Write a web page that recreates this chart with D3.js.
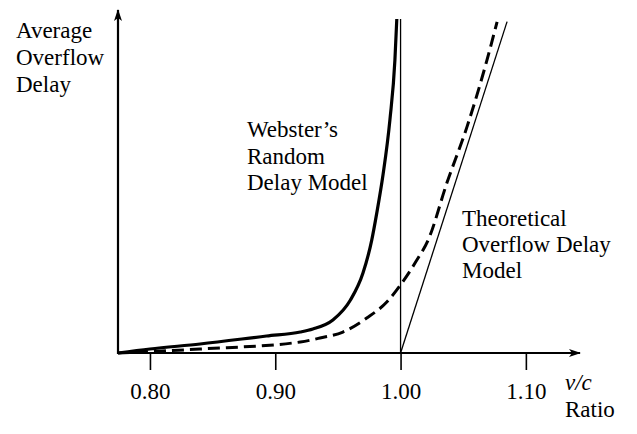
<!DOCTYPE html>
<html><head><meta charset="utf-8">
<script src="https://cdn.jsdelivr.net/npm/d3@7"></script>
<style>
html,body{margin:0;padding:0;background:#fff;}
svg{display:block;}
text{font-family:"Liberation Serif","Times New Roman",serif;fill:#000;}
</style></head>
<body>
<svg id="c" width="637" height="434"></svg>
<script>
// v/c ratio ticks
const tickValues = [0.80, 0.90, 1.00, 1.10];
// Webster's random delay model (thick solid)
const websterX = [0.7745, 0.800, 0.840, 0.893, 0.920, 0.930, 0.946, 0.960, 0.970, 0.977, 0.981, 0.986, 0.9915, 0.9955, 0.997];
const websterY = [0, 0.12, 0.27, 0.51, 0.63, 0.72, 0.99, 1.59, 2.40, 3.39, 4.20, 5.35, 7.00, 8.80, 10.03];
// Dashed curve
const dashedX = [0.7745, 0.840, 0.920, 0.9357, 0.954, 0.973, 0.989, 1.001, 1.013, 1.022, 1.037, 1.053, 1.069, 1.077];
const dashedY = [0, 0.12, 0.33, 0.45, 0.63, 1.05, 1.53, 2.10, 2.79, 3.39, 5.11, 6.79, 8.80, 9.94];
// Theoretical (deterministic) overflow delay, thin straight line
const theoX = [1.00, 1.085];
const theoY = [0, 9.95];
// Vertical reference at v/c = 1.00
const capX = [1.00, 1.00];
const capY = [0, 10.03];

const svg = d3.select("#c");
const x = d3.scaleLinear().domain([0.7745, 1.1432]).range([118, 580]);
const y = d3.scaleLinear().domain([0, 10.3]).range([353, 10]);

const ink = "#000";

const defs = svg.append("defs");
defs.append("marker").attr("id","arr").attr("viewBox","0 0 12 10").attr("refX",11).attr("refY",5)
  .attr("markerWidth",12).attr("markerHeight",10).attr("markerUnits","userSpaceOnUse").attr("orient","auto")
  .append("path").attr("d","M0,1 L12,5 L0,9 L3,5 Z").attr("fill",ink);

// axes lines
svg.append("line").attr("x1",x(0.7745)).attr("y1",y(0)).attr("x2",x(1.1432)).attr("y2",y(0))
  .attr("stroke",ink).attr("stroke-width",2).attr("marker-end","url(#arr)");
svg.append("line").attr("x1",x(0.7745)).attr("y1",y(0)+1).attr("x2",x(0.7745)).attr("y2",y(10.3))
  .attr("stroke",ink).attr("stroke-width",2.2).attr("marker-end","url(#arr)");

// x axis ticks
const xAxis = d3.axisBottom(x).tickValues(tickValues).tickSize(17).tickPadding(13).tickFormat(d3.format(".2f"));
const gx = svg.append("g").attr("transform",`translate(0,${y(0)})`).call(xAxis);
gx.select(".domain").remove();
gx.selectAll(".tick line").attr("stroke",ink).attr("stroke-width",1.6);
gx.selectAll(".tick text").attr("font-size",23).attr("fill",ink)
  .style("font-family","'Liberation Serif','Times New Roman',serif");

// curves
const toPts = (xs, ys) => xs.map((v,i)=>[v, ys[i]]);
const line = d3.line().x(d=>x(d[0])).y(d=>y(d[1])).curve(d3.curveMonotoneX);
const straight = d3.line().x(d=>x(d[0])).y(d=>y(d[1]));

svg.append("path").attr("d", straight(toPts(capX, capY))).attr("fill","none").attr("stroke",ink).attr("stroke-width",1.3);
svg.append("path").attr("d", straight(toPts(theoX, theoY))).attr("fill","none").attr("stroke",ink).attr("stroke-width",1.3);
svg.append("path").attr("d", line(toPts(dashedX, dashedY))).attr("fill","none").attr("stroke",ink)
  .attr("stroke-width",3).attr("stroke-dasharray","12,6");
svg.append("path").attr("d", line(toPts(websterX, websterY))).attr("fill","none").attr("stroke",ink).attr("stroke-width",3.2);

// labels
function block(lines, x0, y0, dy, size, italicFirst){
  const t = svg.append("text").attr("font-size", size);
  lines.forEach((s,i)=>{
    t.append("tspan").attr("x",x0).attr("y",y0+i*dy).text(s)
     .attr("font-style", italicFirst && i===0 ? "italic" : null);
  });
}
block(["Average","Overflow","Delay"], 16, 38, 27, 23);
block(["Webster\u2019s","Random","Delay Model"], 247, 137, 26.5, 23);
block(["Theoretical","Overflow Delay","Model"], 462, 226, 26, 23);
block(["v/c","Ratio"], 565, 390, 27, 23, true);
</script>
</body></html>
